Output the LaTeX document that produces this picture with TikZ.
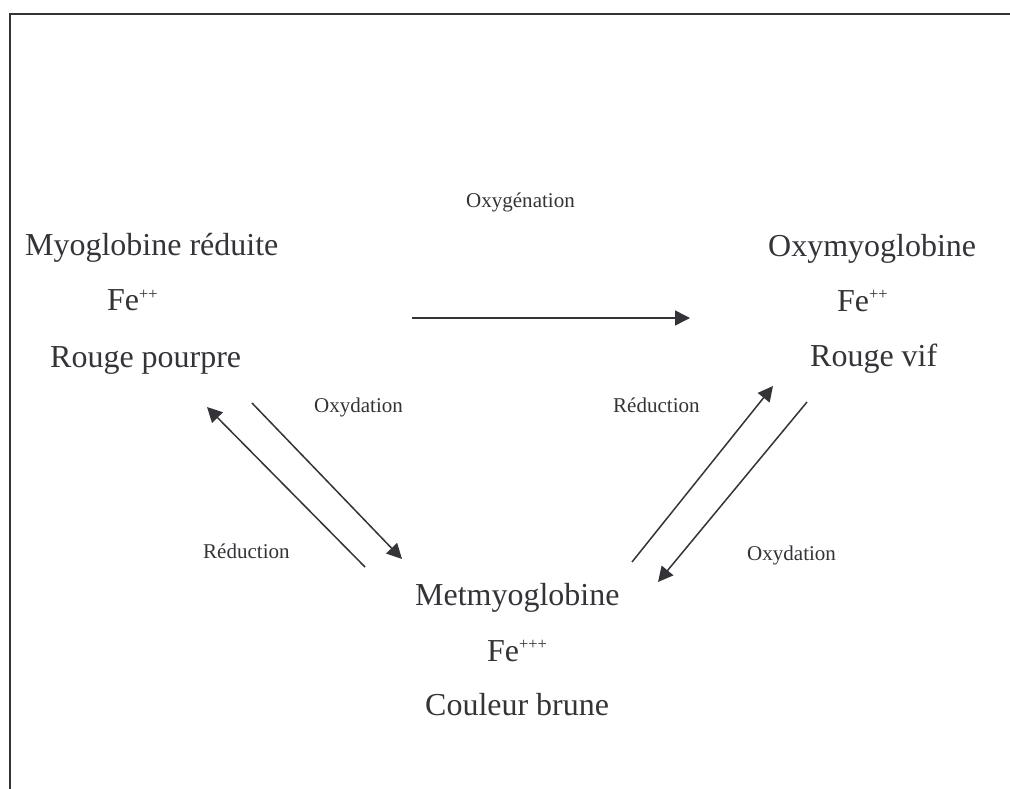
\documentclass[tikz,border=0pt]{standalone}
\usepackage{fontspec}
\setmainfont{Liberation Serif}
\usetikzlibrary{arrows.meta}
\definecolor{ink}{HTML}{333338}
\newcommand{\supp}[1]{\raisebox{11.5bp}{\fontsize{16.5}{16.5}\selectfont #1}}
\tikzset{
  big/.style={anchor=base west, inner sep=0pt, text=ink, font=\fontsize{32.1}{38}\selectfont},
  small/.style={anchor=base west, inner sep=0pt, text=ink, font=\fontsize{21.1}{25}\selectfont},
  conn/.style={draw=ink, line width=1.5bp, -{Triangle[length=15bp,width=15bp]}},
  frame/.style={draw=ink, line width=2bp}
}
\begin{document}
\begin{tikzpicture}[x=1bp,y=-1bp]
\useasboundingbox (0,0) rectangle (1010,789);
\draw[frame] (1012,14) -- (10,14) -- (10,791);
% left state
\node[big] (mr1) at (25,255) {Myoglobine réduite};
\node[big] (mr2) at (107,310.5) {Fe\supp{++}};
\node[big] (mr3) at (50,367) {Rouge pourpre};
% right state
\node[big] (ox1) at (768,256) {Oxymyoglobine};
\node[big] (ox2) at (837,311) {Fe\supp{++}};
\node[big] (ox3) at (810,366) {Rouge vif};
% bottom state
\node[big] (mt1) at (415,605) {Metmyoglobine};
\node[big] (mt2) at (487,661) {Fe\supp{+++}};
\node[big] (mt3) at (425,715) {Couleur brune};
% labels
\node[small] (l1) at (466,207) {Oxygénation};
\node[small] (l2) at (314,412) {Oxydation};
\node[small] (l3) at (203,558) {Réduction};
\node[small] (l4) at (613,412) {Réduction};
\node[small] (l5) at (747,560) {Oxydation};
% arrow endpoints
\coordinate (a1s) at (412,318);
\coordinate (a1e) at (690,318);
\coordinate (a2s) at (365,567);
\coordinate (a2e) at (207,407);
\coordinate (a3s) at (252,403);
\coordinate (a3e) at (402,559);
\coordinate (a4s) at (632,562);
\coordinate (a4e) at (773,386);
\coordinate (a5s) at (807,402);
\coordinate (a5e) at (658,582);
\draw[conn] (a1s) -- (a1e);
\draw[conn] (a2s) -- (a2e);
\draw[conn] (a3s) -- (a3e);
\draw[conn] (a4s) -- (a4e);
\draw[conn] (a5s) -- (a5e);
\end{tikzpicture}
\end{document}
